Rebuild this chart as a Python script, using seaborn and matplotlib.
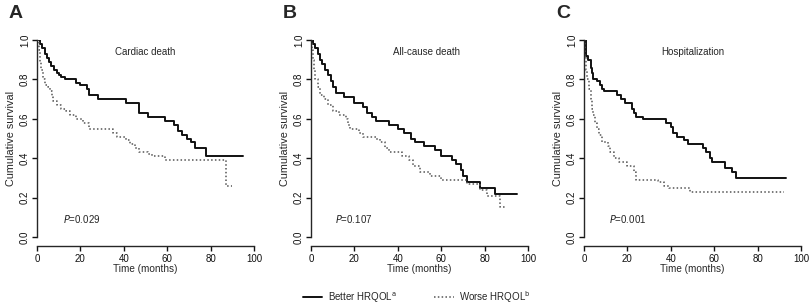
import matplotlib
matplotlib.use("Agg")
import matplotlib.pyplot as plt
import seaborn as sns
import pandas as pd
from matplotlib.lines import Line2D

sns.set_style("ticks")
plt.rcParams['font.family'] = ['Liberation Sans', 'DejaVu Sans']

# ---- data ----
panel_letters = ["A", "B", "C"]
panel_titles = ["Cardiac death", "All-cause death", "Hospitalization"]
p_values = ["0.029", "0.107", "0.001"]
legend_labels = ["Better HRQOL", "Worse HRQOL"]

a_better_t = [0, 1.5, 2.5, 3.5, 4.5, 5.5, 6.5, 8, 9, 10, 11, 13, 18, 20, 23, 24, 28, 41, 47, 51, 59, 63, 65, 67, 69, 71, 73, 78, 95]
a_better_s = [1.0, 0.98, 0.96, 0.93, 0.91, 0.89, 0.87, 0.85, 0.83, 0.82, 0.81, 0.80, 0.78, 0.77, 0.75, 0.72, 0.70, 0.68, 0.63, 0.61, 0.59, 0.57, 0.54, 0.52, 0.50, 0.48, 0.45, 0.41, 0.41]
a_worse_t = [0, 0.8, 1.3, 1.8, 2.8, 3.5, 5, 6, 7, 7.5, 9, 11, 13.5, 15, 18, 21, 24, 35, 37, 41, 43, 45, 47, 51, 53, 59, 87, 90]
a_worse_s = [1.0, 0.95, 0.89, 0.85, 0.80, 0.77, 0.76, 0.74, 0.71, 0.69, 0.67, 0.65, 0.64, 0.62, 0.60, 0.58, 0.55, 0.53, 0.51, 0.49, 0.47, 0.45, 0.43, 0.42, 0.41, 0.39, 0.26, 0.26]

b_better_t = [0, 1, 2, 3, 4, 5, 6.5, 8, 9, 10, 11.5, 15, 20, 24, 26, 28, 30, 36, 40, 43, 46, 48, 52, 57, 60, 65, 67, 69, 70, 72, 78, 85, 95]
b_better_s = [1.0, 0.98, 0.96, 0.93, 0.90, 0.88, 0.85, 0.82, 0.79, 0.76, 0.73, 0.71, 0.68, 0.66, 0.63, 0.61, 0.59, 0.57, 0.55, 0.53, 0.50, 0.48, 0.46, 0.44, 0.41, 0.39, 0.37, 0.34, 0.31, 0.28, 0.25, 0.22, 0.22]
b_worse_t = [0, 0.5, 1, 1.5, 2, 3, 4, 6, 8, 10, 13, 16, 17, 18, 22, 24, 30, 32, 34, 36, 42, 45, 47, 50, 55, 60, 72, 78, 81, 87, 90]
b_worse_s = [1.0, 0.95, 0.90, 0.85, 0.80, 0.76, 0.72, 0.70, 0.67, 0.64, 0.62, 0.60, 0.57, 0.55, 0.53, 0.51, 0.50, 0.48, 0.45, 0.43, 0.41, 0.39, 0.36, 0.33, 0.31, 0.29, 0.27, 0.24, 0.21, 0.15, 0.15]

c_better_t = [0, 1, 2, 3, 3.5, 4, 6, 7.5, 8.5, 9, 15, 17, 19, 22, 23, 24, 27, 38, 40, 41, 43, 46, 48, 55, 56, 58, 59, 65, 68, 70, 93]
c_better_s = [1.0, 0.92, 0.90, 0.86, 0.83, 0.80, 0.79, 0.77, 0.75, 0.74, 0.72, 0.70, 0.68, 0.65, 0.63, 0.61, 0.60, 0.58, 0.56, 0.53, 0.51, 0.49, 0.47, 0.45, 0.43, 0.40, 0.38, 0.35, 0.33, 0.30, 0.30]
c_worse_t = [0, 0.5, 1, 1.5, 2.5, 3, 3.5, 4, 5, 6, 7, 8.5, 11, 12, 14, 16, 20, 23, 24, 34, 37, 39, 49, 92]
c_worse_s = [1.0, 0.92, 0.85, 0.80, 0.75, 0.70, 0.65, 0.62, 0.58, 0.55, 0.52, 0.48, 0.46, 0.43, 0.40, 0.38, 0.36, 0.33, 0.29, 0.28, 0.26, 0.25, 0.23, 0.23]

x_ticks = [0, 20, 40, 60, 80, 100]
y_ticks = [0.0, 0.2, 0.4, 0.6, 0.8, 1.0]

panels = [
    (a_better_t, a_better_s, a_worse_t, a_worse_s),
    (b_better_t, b_better_s, b_worse_t, b_worse_s),
    (c_better_t, c_better_s, c_worse_t, c_worse_s),
]

W, H = 810, 307
fig = plt.figure(figsize=(W / 100, H / 100), dpi=100)
lefts = [37, 311, 584]
title_x = [50, 53, 50]
p_x = [12, 11, 11.5]
top_px, bot_px, width_px = 40, 237, 217

solid_color = "#111111"
dotted_color = "#555555"
dot_style = (0, (1, 1.5))

for i, (bt, bs, wt, ws) in enumerate(panels):
    ax = fig.add_axes([lefts[i] / W, (H - bot_px) / H, width_px / W, (bot_px - top_px) / H])
    dfb = pd.DataFrame({"t": bt, "s": bs})
    dfw = pd.DataFrame({"t": wt, "s": ws})
    sns.lineplot(data=dfb, x="t", y="s", ax=ax, estimator=None, sort=False,
                 drawstyle="steps-post", color=solid_color, linewidth=1.4)
    sns.lineplot(data=dfw, x="t", y="s", ax=ax, estimator=None, sort=False,
                 drawstyle="steps-post", color=dotted_color, linewidth=1.1, linestyle=dot_style)
    ax.set_xlim(0, 100)
    ax.set_ylim(0, 1)
    ax.set_xticks(x_ticks)
    ax.set_yticks(y_ticks)
    ax.set_yticklabels([f"{v:.1f}" for v in y_ticks], rotation=90, va="center")
    ax.spines["top"].set_visible(False)
    ax.spines["right"].set_visible(False)
    ax.spines["bottom"].set_position(("outward", 6.5))
    ax.spines["left"].set_linewidth(1.0)
    ax.spines["bottom"].set_linewidth(1.0)
    ax.tick_params(axis="both", labelsize=7, length=3.5, width=1.0, colors="#111111")
    ax.tick_params(axis="x", pad=2.5)
    ax.tick_params(axis="y", pad=1.5)
    ax.set_xlabel("Time (months)", fontsize=7.2, labelpad=0)
    ax.set_ylabel("Cumulative survival", fontsize=7.8, labelpad=3)
    ax.text(title_x[i], 0.94, panel_titles[i], fontsize=7, ha="center", va="center")
    ax.text(p_x[i], 0.09, f"$P$={p_values[i]}", fontsize=7, ha="left", va="center")
    fig.text((lefts[i] - 28) / W, 1 - 14 / H, panel_letters[i], fontsize=14,
             fontweight="bold", ha="left", va="center")

handles = [
    Line2D([], [], color=solid_color, linewidth=1.4),
    Line2D([], [], color=dotted_color, linewidth=1.1, linestyle=dot_style),
]
labels = [legend_labels[0] + r"$^{\mathrm{a}}$", legend_labels[1] + r"$^{\mathrm{b}}$"]
fig.legend(handles, labels, loc="center", bbox_to_anchor=(417 / W, 1 - 297 / H), ncol=2,
           frameon=False, fontsize=7, handlelength=2.0, columnspacing=3.8, handletextpad=0.6)

fig.savefig("out.png", dpi=100, facecolor="white")
